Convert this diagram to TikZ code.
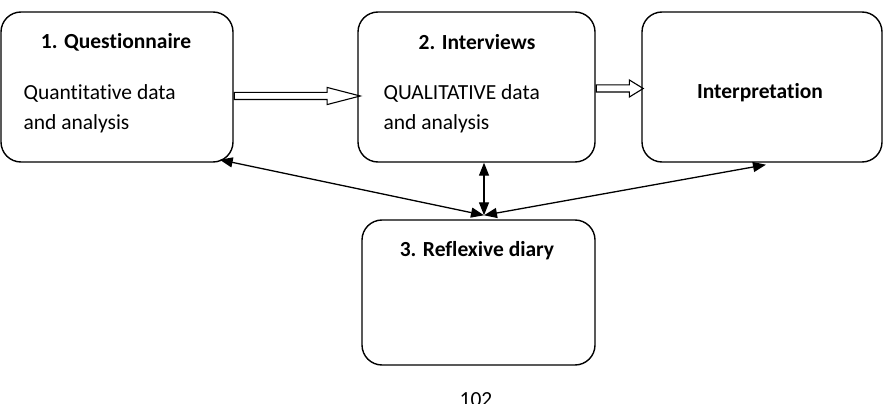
\documentclass[tikz,border=0pt]{standalone}
\usepackage{fontspec}
\setmainfont[Ligatures={NoCommon}]{Carlito}
\usetikzlibrary{arrows.meta, shapes.arrows, positioning}

\tikzset{
  stage/.style={draw, line width=1.4pt, rounded corners=20pt, inner sep=0pt},
  flowarrow/.style={draw, line width=1.1pt, single arrow, inner sep=3pt,
    single arrow head extend=5pt, anchor=tail},
  link/.style={line width=1.3pt, {Triangle[length=13pt,width=10pt]}-{Triangle[length=13pt,width=10pt]}}
}

\begin{document}
\begin{tikzpicture}[x=1pt, y=-1pt, font=\fontsize{21.5}{30}\selectfont]
  \useasboundingbox (0,0) rectangle (895,404);
  % the four boxes
  \node[stage, minimum width=232pt, minimum height=150pt] (quest) at (117,87) {};
  \node[stage, minimum width=237pt, minimum height=150pt] (inter) at (476.5,87) {};
  \node[stage, minimum width=240pt, minimum height=150pt] (interp) at (762,87) {};
  \node[stage, minimum width=233pt, minimum height=145pt] (diary) at (478.5,292.5) {};
  % texts
  \node[font=\fontsize{21.5}{30}\selectfont\bfseries] (questT) at (116,42) {1. Questionnaire};
  \node[anchor=west, align=left] (questB) at (20,109) {Quantitative data\\and analysis};
  \node[font=\fontsize{21.5}{30}\selectfont\bfseries] (interT) at (477,42) {2. Interviews};
  \node[anchor=west, align=left] (interB) at (380,109) {QUALITATIVE data\\and analysis};
  \node[font=\fontsize{21.5}{30}\selectfont\bfseries] (interpT) at (760,93) {Interpretation};
  \node[font=\fontsize{21.5}{30}\selectfont\bfseries] (diaryT) at (477,251) {3. Reflexive diary};
  \node[anchor=north] (page) at (476,389) {102};
  % flow arrows
  \node[flowarrow, minimum height=126pt, single arrow tip angle=29] (a1) at ([yshift=-9pt]quest.east) {};
  \node[flowarrow, minimum height=47pt, single arrow tip angle=63] (a2) at ([yshift=-1.5pt]inter.east) {};
  % links to the diary
  \coordinate (meet) at ([xshift=5.5pt, yshift=4pt]diary.north);
  \draw[link] ([xshift=-14pt, yshift=3pt]quest.south east) -- (meet);
  \draw[link] (inter.south -| meet) -- (meet);
  \draw[link] ([xshift=4pt, yshift=-2pt]interp.south) -- (meet);
\end{tikzpicture}
\end{document}
